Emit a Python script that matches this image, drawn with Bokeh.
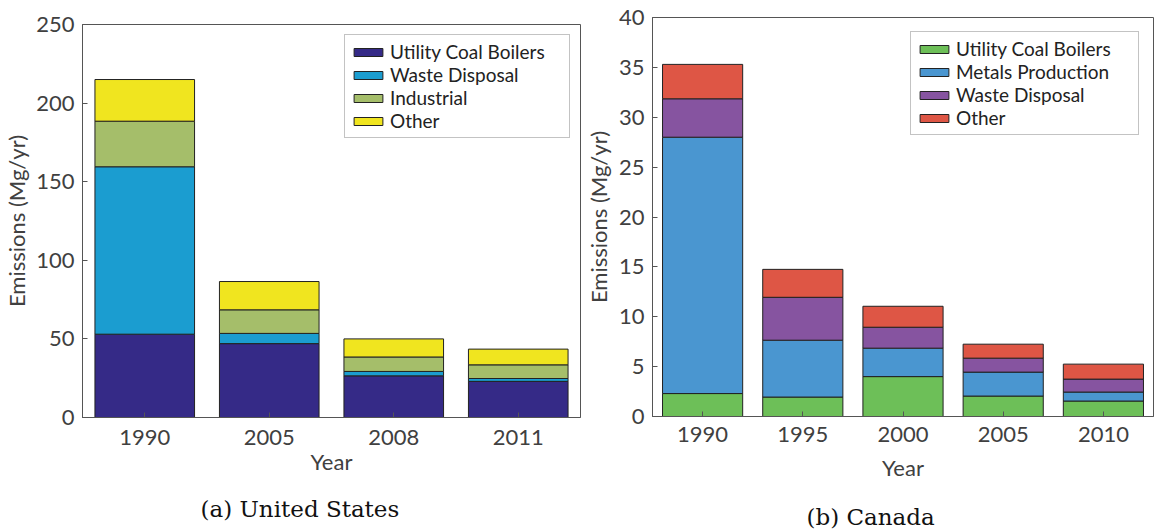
from bokeh.plotting import figure
from bokeh.models import (ColumnDataSource, Range1d, FactorRange,
                          SingleIntervalTicker, Title)
from bokeh.layouts import row
from bokeh.embed import file_html
from bokeh.resources import INLINE

# ---------------- data ----------------
us_years = ["1990", "2005", "2008", "2011"]
us_series = ["Utility Coal Boilers", "Waste Disposal", "Industrial", "Other"]
us_ucb = [53.0, 47.0, 26.5, 23.0]
us_waste = [106.5, 6.5, 2.8, 1.8]
us_industrial = [29.0, 15.0, 9.2, 8.7]
us_other = [26.5, 18.0, 11.5, 10.0]
us_colors = ["#352a87", "#1b9dd0", "#a5be6a", "#f0e51f"]

ca_years = ["1990", "1995", "2000", "2005", "2010"]
ca_series = ["Utility Coal Boilers", "Metals Production", "Waste Disposal", "Other"]
ca_ucb = [2.3, 1.95, 4.0, 2.05, 1.55]
ca_metals = [25.7, 5.7, 2.85, 2.4, 0.9]
ca_waste = [3.85, 4.3, 2.1, 1.4, 1.3]
ca_other = [3.45, 2.8, 2.1, 1.4, 1.5]
ca_colors = ["#6dbf58", "#4a96d0", "#8654a0", "#de5645"]

AXIS_COLOR = "#555555"
TEXT_COLOR = "#404040"
SANS = "Lato"


def make_chart(years, series, values, colors, ymax, ystep, caption,
               fw, fh, bl, br, bt, bb, ylab_standoff, xtick_standoff, xlab_standoff,
               cap_offset, cap_standoff, legend_margin, legend_label_width):
    keys = ["s%d" % i for i in range(len(series))]
    data = {"year": years}
    for k, v in zip(keys, values):
        data[k] = v
    src = ColumnDataSource(data)
    p = figure(x_range=FactorRange(*years), y_range=Range1d(0, ymax),
               frame_width=fw, frame_height=fh, output_backend="svg",
               toolbar_location=None, min_border_left=bl, min_border_right=br,
               min_border_top=bt, min_border_bottom=bb, frame_align=False)
    p.vbar_stack(keys, x="year", width=0.8, source=src, fill_color=colors,
                 line_color="#222222", line_width=1, legend_label=series)
    p.xgrid.visible = False
    p.ygrid.visible = False
    p.outline_line_color = AXIS_COLOR
    p.outline_line_alpha = 1.0
    p.background_fill_color = "white"
    p.border_fill_color = "white"

    p.yaxis.ticker = SingleIntervalTicker(interval=ystep, num_minor_ticks=0)
    for ax in p.xaxis + p.yaxis:
        ax.axis_line_color = AXIS_COLOR
        ax.major_tick_line_color = AXIS_COLOR
        ax.major_tick_in = 5
        ax.major_tick_out = 0
        ax.minor_tick_line_color = None
        ax.major_label_text_font = SANS
        ax.major_label_text_font_size = "22px"
        ax.major_label_text_color = TEXT_COLOR
        ax.axis_label_text_font = SANS
        ax.axis_label_text_font_size = "22px"
        ax.axis_label_text_font_style = "normal"
        ax.axis_label_text_color = TEXT_COLOR
    p.yaxis.major_label_standoff = 8
    p.xaxis.major_label_standoff = xtick_standoff
    p.yaxis.axis_label = "Emissions (Mg/yr)"
    p.yaxis.axis_label_standoff = ylab_standoff
    p.xaxis.axis_label = "Year"
    p.xaxis.axis_label_standoff = xlab_standoff

    lg = p.legend[0]
    lg.location = "top_right"
    lg.margin = legend_margin
    lg.padding = 5
    lg.spacing = 0
    lg.glyph_width = 36
    lg.glyph_height = 10
    lg.label_standoff = 4
    lg.label_width = legend_label_width
    lg.label_text_font = SANS
    lg.label_text_font_size = "19px"
    lg.label_text_color = "#222222"
    lg.border_line_color = "#888888"
    lg.border_line_width = 1
    lg.background_fill_color = "white"
    lg.background_fill_alpha = 1.0

    p.add_layout(Title(text=caption, align="left", offset=cap_offset,
                       standoff=cap_standoff, text_font="DejaVu Serif",
                       text_font_size="23px", text_font_style="normal",
                       text_color="#111111"), "below")
    return p


p1 = make_chart(us_years, us_series, [us_ucb, us_waste, us_industrial, us_other],
                us_colors, 250, 50, "(a) United States",
                498, 393, 77, 1, 24, 110, 3, 12, 0, 118, 32, 10, 174)
p2 = make_chart(ca_years, ca_series, [ca_ucb, ca_metals, ca_waste, ca_other],
                ca_colors, 40, 5, "(b) Canada",
                501, 399, 64, 1, 17, 113, 4, 10, 9, 154, 36, 14, 177)

layout = row(p1, p2, spacing=0)
open("out.html", "w").write(file_html(layout, INLINE))
